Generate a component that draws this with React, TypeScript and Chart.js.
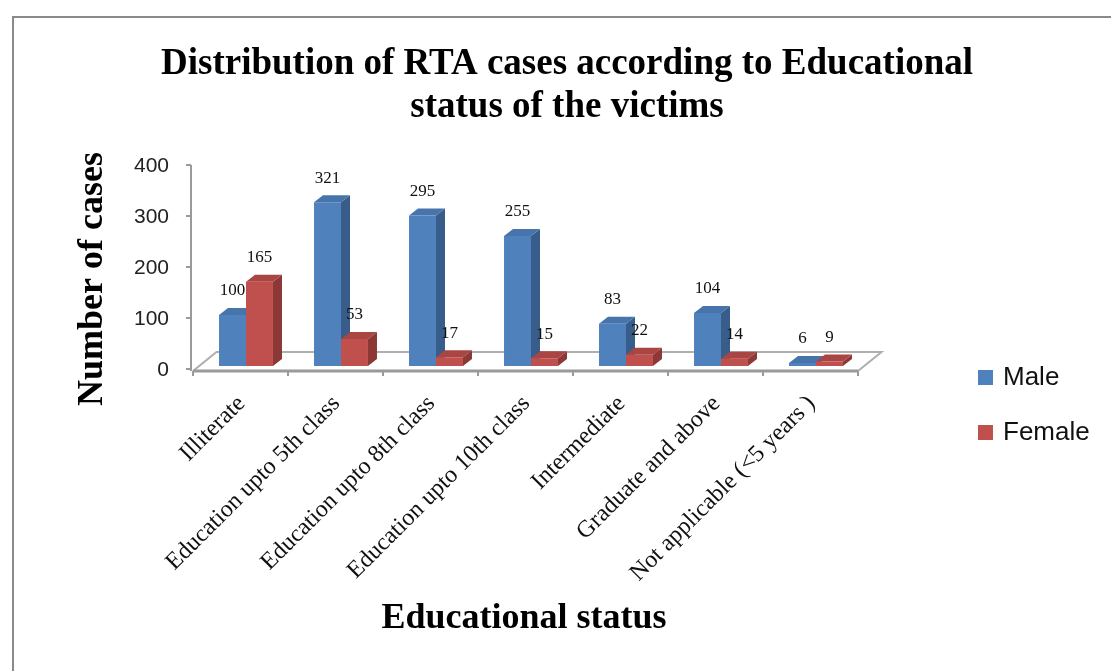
import React, { useEffect, useRef } from "react";
import { Chart, registerables } from "chart.js";

Chart.register(...registerables);

// ---------- data ----------
const categories = [
  "Illiterate",
  "Education upto 5th class",
  "Education upto 8th class",
  "Education upto 10th class",
  "Intermediate",
  "Graduate and above",
  "Not applicable (<5 years )",
];
const maleValues = [100, 321, 295, 255, 83, 104, 6];
const femaleValues = [165, 53, 17, 15, 22, 14, 9];
const seriesNames = ["Male", "Female"];
const yTickValues = [0, 100, 200, 300, 400];
const titleLines = [
  "Distribution of RTA cases according to Educational",
  "status of the victims",
];
const yAxisTitle = "Number of cases";
const xAxisTitle = "Educational status";

// ---------- style ----------
const FRONT = ["#4F81BD", "#C0504D"];
const SIDE = ["#385D8A", "#8C3836"];
const TOP = ["#4674AB", "#A94643"];
const SERIF = '"Liberation Serif", "Times New Roman", serif';
const SANS = '"Liberation Sans", Arial, sans-serif';
const AXIS = "#9A9A9A";
const DEPTH = { dx: 9, dy: -7 };
const FLOOR_FRONT = { dx: -5.5, dy: 5 };
const FLOOR_BACK = { dx: 18, dy: -14 };

const threeD = {
  id: "threeD",
  beforeDraw(chart: any) {
    const ctx = chart.ctx;
    ctx.save();
    ctx.fillStyle = "#ffffff";
    ctx.fillRect(0, 0, chart.width, chart.height);
    ctx.strokeStyle = "#8A8A8A";
    ctx.lineWidth = 2;
    ctx.beginPath();
    ctx.moveTo(13, chart.height + 5);
    ctx.lineTo(13, 17);
    ctx.lineTo(chart.width + 5, 17);
    ctx.stroke();
    ctx.restore();
  },
  beforeDatasetsDraw(chart: any) {
    const ctx = chart.ctx;
    const xs = chart.scales.x;
    const ys = chart.scales.y;
    const area = chart.chartArea;
    const B = ys.getPixelForValue(0);
    const step = xs.getPixelForValue(1) - xs.getPixelForValue(0);
    const L = area.left;
    const R = area.right;
    ctx.save();

    // floor
    const fl = { x: L + FLOOR_FRONT.dx, y: B + FLOOR_FRONT.dy };
    const fr = { x: R + FLOOR_FRONT.dx, y: B + FLOOR_FRONT.dy };
    const bl = { x: L + FLOOR_BACK.dx, y: B + FLOOR_BACK.dy };
    const br = { x: R + FLOOR_BACK.dx, y: B + FLOOR_BACK.dy };
    ctx.strokeStyle = "#AFAFAF";
    ctx.lineWidth = 2;
    ctx.beginPath();
    ctx.moveTo(fl.x, fl.y);
    ctx.lineTo(bl.x, bl.y);
    ctx.lineTo(br.x, br.y);
    ctx.lineTo(fr.x, fr.y);
    ctx.stroke();
    ctx.lineWidth = 3;
    ctx.strokeStyle = AXIS;
    ctx.beginPath();
    ctx.moveTo(fl.x, fl.y);
    ctx.lineTo(fr.x, fr.y);
    ctx.stroke();

    // category ticks + labels
    ctx.lineWidth = 2;
    for (let i = 0; i <= categories.length; i++) {
      const tx = xs.getPixelForValue(0) - step / 2 + i * step + FLOOR_FRONT.dx;
      ctx.beginPath();
      ctx.moveTo(tx, fl.y);
      ctx.lineTo(tx, fl.y + 5);
      ctx.stroke();
    }
    ctx.fillStyle = "#111";
    ctx.font = `24px ${SERIF}`;
    ctx.textAlign = "right";
    ctx.textBaseline = "middle";
    categories.forEach((c, i) => {
      const cx = xs.getPixelForValue(i) + FLOOR_FRONT.dx;
      ctx.save();
      ctx.translate(cx + 1, fl.y + 29);
      ctx.rotate(-Math.PI / 4);
      ctx.fillText(c, 0, 0);
      ctx.restore();
    });

    // value axis
    const ax = L + FLOOR_FRONT.dx - 2;
    ctx.strokeStyle = AXIS;
    ctx.lineWidth = 2;
    ctx.beginPath();
    ctx.moveTo(ax, ys.getPixelForValue(400) + 3);
    ctx.lineTo(ax, fl.y);
    ctx.stroke();
    ctx.font = `21px ${SANS}`;
    ctx.fillStyle = "#222";
    ctx.textAlign = "right";
    ctx.textBaseline = "middle";
    yTickValues.forEach((v) => {
      const ty = ys.getPixelForValue(v) + 3;
      ctx.beginPath();
      ctx.moveTo(ax - 5, ty);
      ctx.lineTo(ax, ty);
      ctx.stroke();
      ctx.fillText(String(v), ax - 22, ty + 1);
    });

    // titles
    ctx.fillStyle = "#000";
    ctx.font = `bold 37px ${SERIF}`;
    ctx.textAlign = "center";
    ctx.textBaseline = "alphabetic";
    ctx.fillText(titleLines[0], 567, 74);
    ctx.fillText(titleLines[1], 567, 117);
    ctx.font = `bold 36px ${SERIF}`;
    ctx.fillText(xAxisTitle, 524, 628);
    ctx.save();
    ctx.translate(102, 279);
    ctx.rotate(-Math.PI / 2);
    ctx.fillText(yAxisTitle, 0, 0);
    ctx.restore();

    // legend
    ctx.font = `26px ${SANS}`;
    ctx.textAlign = "left";
    ctx.textBaseline = "middle";
    seriesNames.forEach((n, i) => {
      const ly = 378 + i * 55;
      ctx.fillStyle = FRONT[i];
      ctx.fillRect(978, ly - 8, 15, 15);
      ctx.fillStyle = "#111";
      ctx.fillText(n, 1003, ly);
    });

    // 3D side & top faces (behind front faces)
    const metas = chart.data.datasets.map((_: any, i: number) => chart.getDatasetMeta(i));
    for (let k = 0; k < categories.length; k++) {
      metas.forEach((meta: any, di: number) => {
        const el = meta.data[k];
        if (!el) return;
        const { x, y, base, width } = el.getProps(["x", "y", "base", "width"], true);
        const l = x - width / 2;
        const r = x + width / 2;
        ctx.fillStyle = SIDE[di];
        ctx.beginPath();
        ctx.moveTo(r, y);
        ctx.lineTo(r + DEPTH.dx, y + DEPTH.dy);
        ctx.lineTo(r + DEPTH.dx, base + DEPTH.dy);
        ctx.lineTo(r, base);
        ctx.closePath();
        ctx.fill();
        ctx.fillStyle = TOP[di];
        ctx.beginPath();
        ctx.moveTo(l, y);
        ctx.lineTo(l + DEPTH.dx, y + DEPTH.dy);
        ctx.lineTo(r + DEPTH.dx, y + DEPTH.dy);
        ctx.lineTo(r, y);
        ctx.closePath();
        ctx.fill();
      });
    }
    ctx.restore();
  },
  afterDatasetsDraw(chart: any) {
    const ctx = chart.ctx;
    ctx.save();
    ctx.font = `17px ${SERIF}`;
    ctx.fillStyle = "#111";
    ctx.textAlign = "center";
    ctx.textBaseline = "middle";
    chart.data.datasets.forEach((ds: any, di: number) => {
      const meta = chart.getDatasetMeta(di);
      meta.data.forEach((el: any, k: number) => {
        const { x, y } = el.getProps(["x", "y"], true);
        ctx.fillText(String(ds.data[k]), x, y - 24);
      });
    });
    ctx.restore();
  },
};

export default function App() {
  const ref = useRef<HTMLCanvasElement | null>(null);
  useEffect(() => {
    if (!ref.current) return;
    const chart = new Chart(ref.current, {
      type: "bar",
      data: {
        labels: categories,
        datasets: [
          { label: seriesNames[0], data: maleValues, backgroundColor: FRONT[0], borderWidth: 0 },
          { label: seriesNames[1], data: femaleValues, backgroundColor: FRONT[1], borderWidth: 0 },
        ],
      },
      options: {
        responsive: false,
        animation: false,
        devicePixelRatio: 1,
        layout: { padding: { left: 198.5, right: 247.5, top: 162, bottom: 305 } },
        datasets: { bar: { categoryPercentage: 0.568, barPercentage: 1 } },
        scales: {
          x: { display: false },
          y: { display: false, min: 0, max: 400 },
        },
        plugins: {
          legend: { display: false },
          title: { display: false },
          tooltip: { enabled: false },
        },
      },
      plugins: [threeD],
    });
    return () => chart.destroy();
  }, []);
  return (
    <div style={{ position: "absolute", left: 0, top: 0, width: 1111, height: 671, overflow: "hidden" }}>
      <canvas ref={ref} width={1111} height={671} style={{ display: "block" }} />
    </div>
  );
}
